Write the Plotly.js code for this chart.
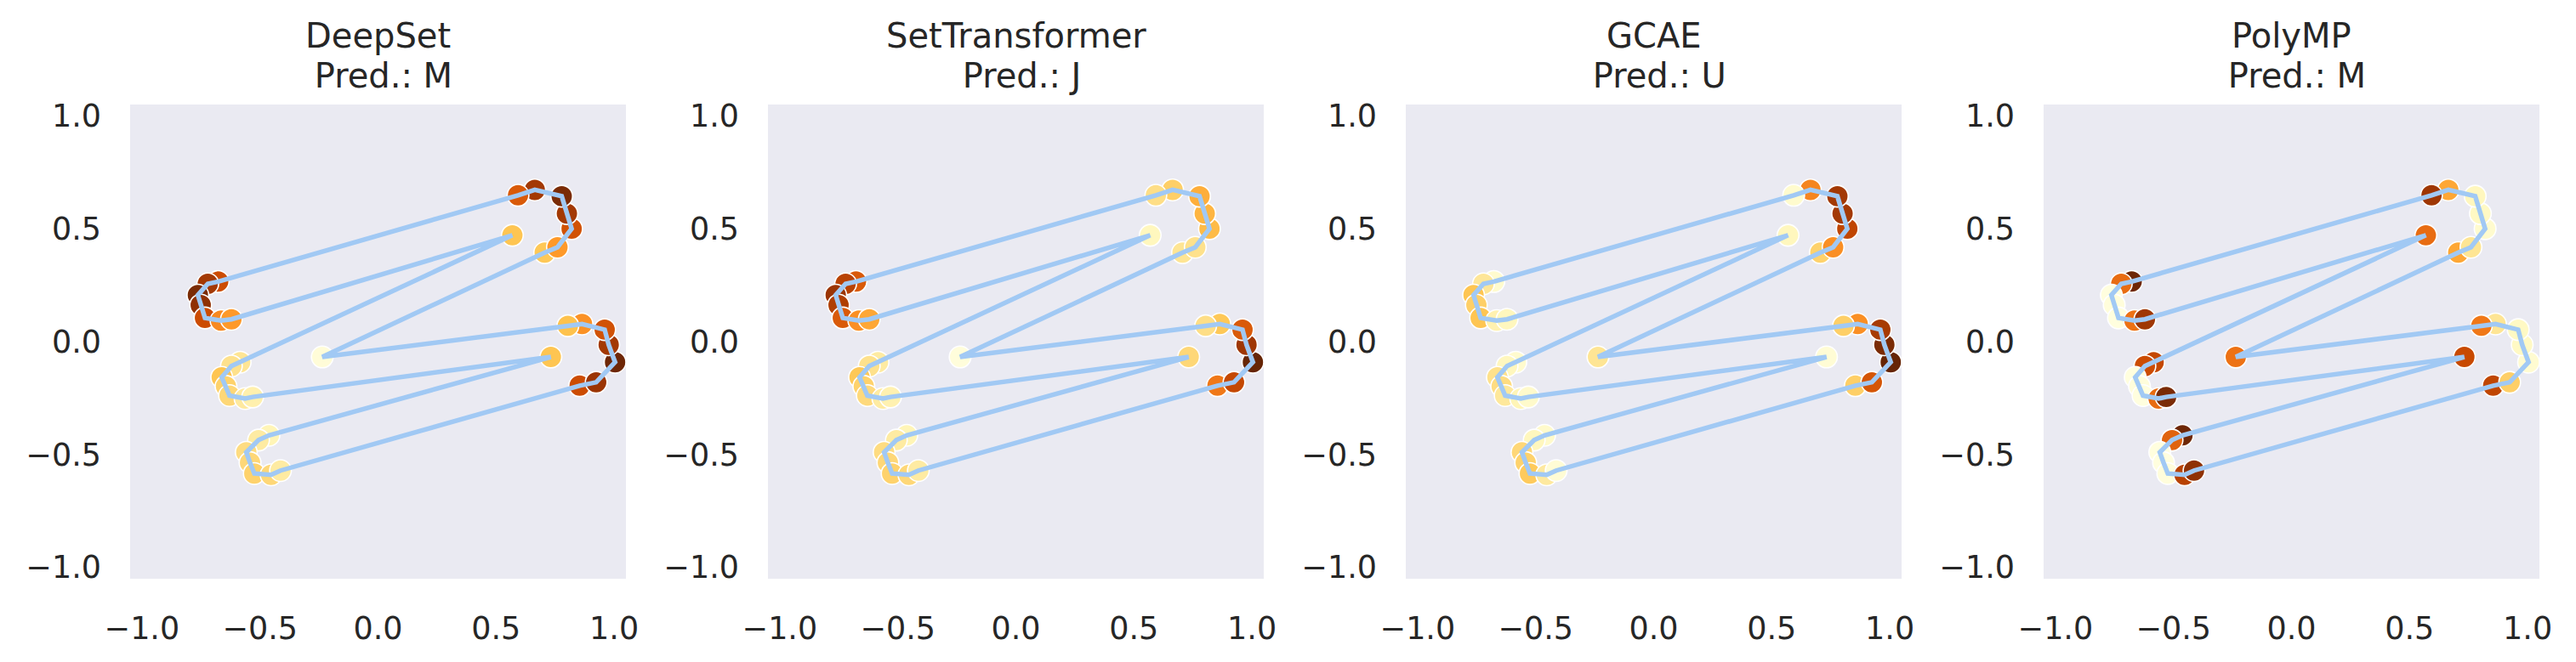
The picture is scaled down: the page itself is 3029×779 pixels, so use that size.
<!DOCTYPE html>
<html>
<head>
<meta charset="utf-8">
<script src="https://cdn.plot.ly/plotly-3.0.1.min.js"></script>
<style>html,body{margin:0;padding:0;background:#fff;}#chart{width:3029px;height:779px;}</style>
</head>
<body>
<div id="chart"></div>
<script>
// Polygon node coordinates (closed path, in drawing order)
const pointX = [-0.677,-0.721,-0.763,-0.751,-0.733,-0.665,-0.621, 0.569,
  -0.584,-0.621,-0.662,-0.644,-0.629,-0.563,-0.531, 0.732,
  -0.462,-0.506,-0.558,-0.542,-0.524,-0.453,-0.413,
   0.854, 0.924, 1.004, 0.977, 0.960, 0.864, 0.804, -0.236,
   0.706, 0.760, 0.820, 0.800, 0.778, 0.664, 0.593];
const pointY = [0.266, 0.256, 0.206, 0.162, 0.105, 0.093, 0.099, 0.471,
  -0.091,-0.108,-0.158,-0.198,-0.239,-0.252,-0.245,-0.068,
  -0.415,-0.436,-0.490,-0.536,-0.584,-0.590,-0.571,
  -0.195,-0.180,-0.091,-0.014, 0.053, 0.078, 0.070,-0.068,
   0.394, 0.418, 0.500, 0.567, 0.644, 0.672, 0.648];

// Node importance per model (colour value, 0..1 on YlOrBr)
const deepSetVals = [0.75,0.85,0.95,0.90,0.75,0.55,0.50, 0.37,
  0.24,0.26,0.37,0.32,0.30,0.21,0.17, 0.37,
  0.14,0.20,0.28,0.30,0.32,0.30,0.20,
  0.75,0.87,0.98,0.85,0.73,0.52,0.38, 0.04,
  0.36,0.50,0.73,0.85,0.95,0.85,0.70];
const setTransformerVals = [0.70,0.80,0.87,0.82,0.70,0.53,0.46, 0.12,
  0.20,0.26,0.36,0.32,0.29,0.20,0.16, 0.30,
  0.14,0.20,0.28,0.30,0.32,0.30,0.20,
  0.60,0.77,1.00,0.86,0.70,0.36,0.27, 0.03,
  0.24,0.26,0.40,0.42,0.44,0.33,0.27];
const gcaeVals = [0.07,0.23,0.37,0.33,0.37,0.16,0.12, 0.12,
  0.07,0.12,0.26,0.28,0.22,0.14,0.08, 0.05,
  0.08,0.12,0.30,0.32,0.35,0.21,0.05,
  0.33,0.72,1.00,0.95,0.84,0.53,0.33, 0.24,
  0.32,0.53,0.78,0.85,0.85,0.56,0.07];
const polyMPVals = [0.98,0.64,0.02,0.03,0.02,0.62,0.86, 0.64,
  0.77,0.75,0.02,0.03,0.02,0.64,0.95, 0.76,
  0.98,0.67,0.02,0.02,0.03,0.80,0.90,
  0.78,0.33,0.06,0.10,0.10,0.24,0.60, 0.62,
  0.46,0.24,0.07,0.10,0.12,0.46,0.86];

const modelNames = ["DeepSet", "SetTransformer", "GCAE", "PolyMP"];
const predictions = ["M", "J", "U", "M"];
const tickVals = [-1, -0.5, 0, 0.5, 1];
const tickText = ["\u22121.0", "\u22120.5", "0.0", "0.5", "1.0"];

const ylorbr = [[0,"#ffffe5"],[0.125,"#fff7bc"],[0.25,"#fee391"],[0.375,"#fec44f"],
  [0.5,"#fe9929"],[0.625,"#ec7014"],[0.75,"#cc4c02"],[0.875,"#993404"],[1,"#662506"]];

const allVals = [deepSetVals, setTransformerVals, gcaeVals, polyMPVals];
const W = 3029, H = 779;
const plotLeft = 153, plotWidth = 583, panelStep = 750;
const plotTop = 123, plotBottom = 681;

const traces = [];
const layout = {
  width: W, height: H,
  margin: {l:0, r:0, t:0, b:0},
  paper_bgcolor: "#ffffff",
  plot_bgcolor: "#eaeaf2",
  showlegend: false,
  font: {family: "DejaVu Sans", color: "#262626", size: 36.5},
  annotations: []
};
const closedX = pointX.concat([pointX[0]]);
const closedY = pointY.concat([pointY[0]]);

for (let k = 0; k < 4; k++) {
  const sx = k === 0 ? "" : String(k + 1);
  const x0 = (plotLeft + panelStep * k) / W;
  const x1 = (plotLeft + panelStep * k + plotWidth) / W;
  traces.push({
    type: "scatter", mode: "markers",
    x: pointX, y: pointY,
    xaxis: "x" + sx, yaxis: "y" + sx,
    marker: {size: 25.5, color: allVals[k], colorscale: ylorbr, cmin: 0, cmax: 1,
      line: {color: "#ffffff", width: 1.6}},
    hoverinfo: "skip"
  });
  traces.push({
    type: "scatter", mode: "lines",
    x: closedX, y: closedY,
    xaxis: "x" + sx, yaxis: "y" + sx,
    line: {color: "#a1c9f4", width: 5.5},
    hoverinfo: "skip"
  });
  const axCommon = {
    range: [-1.05, 1.05], showgrid: false, zeroline: false, showline: false,
    ticks: "", tickvals: tickVals, ticktext: tickText,
    tickfont: {family: "DejaVu Sans", size: 36.5, color: "#262626"},
    ticklabelstandoff: 33, fixedrange: true
  };
  layout["xaxis" + sx] = Object.assign({}, axCommon, {
    domain: [x0, x1], anchor: "y" + sx
  });
  layout["yaxis" + sx] = Object.assign({}, axCommon, {
    domain: [1 - plotBottom / H, 1 - plotTop / H], anchor: "x" + sx
  });
  const cx = (x0 + x1) / 2;
  layout.annotations.push({
    xref: "paper", yref: "paper", x: cx, y: 1 - 42 / H,
    xanchor: "center", yanchor: "middle", showarrow: false,
    text: modelNames[k], font: {family: "DejaVu Sans", size: 40, color: "#262626"}
  });
  layout.annotations.push({
    xref: "paper", yref: "paper", x: cx, y: 1 - 89 / H,
    xanchor: "center", yanchor: "middle", showarrow: false,
    text: "\u00a0Pred.: " + predictions[k], font: {family: "DejaVu Sans", size: 40, color: "#262626"}
  });
}

Plotly.newPlot("chart", traces, layout, {staticPlot: true, displayModeBar: false});
</script>
</body>
</html>
